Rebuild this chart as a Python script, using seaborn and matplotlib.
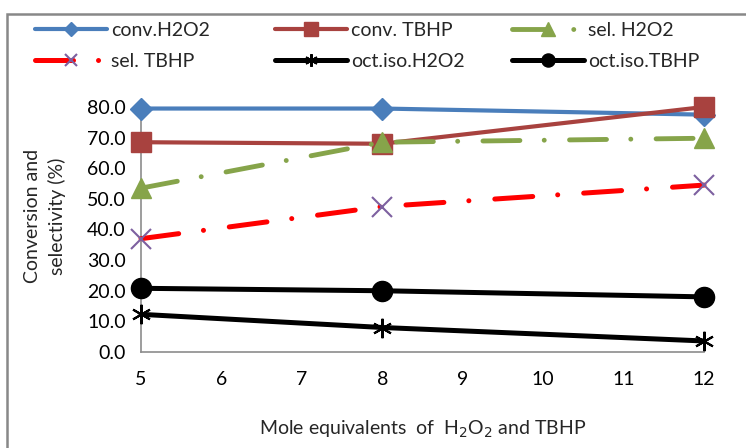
import matplotlib
matplotlib.use("Agg")
import matplotlib.pyplot as plt
from matplotlib.patches import Rectangle
from matplotlib.lines import Line2D
import seaborn as sns
import pandas as pd

# Oxidant loading (mole equivalents)
equivalents = [5, 8, 12]

# Conversion, selectivity and octane/iso ratio (%)
conv_h2o2 = [79.5, 79.5, 77.5]
conv_tbhp = [68.5, 68.0, 80.0]
sel_h2o2 = [53.5, 68.5, 69.8]
sel_tbhp = [37.0, 47.5, 54.5]
oct_iso_h2o2 = [12.3, 8.0, 3.6]
oct_iso_tbhp = [20.8, 20.0, 18.0]

series_names = ["conv.H2O2", "conv. TBHP", "sel. H2O2",
                "sel. TBHP", "oct.iso.H2O2", "oct.iso.TBHP"]
series_values = [conv_h2o2, conv_tbhp, sel_h2o2, sel_tbhp,
                 oct_iso_h2o2, oct_iso_tbhp]

x_ticks = [5, 6, 7, 8, 9, 10, 11, 12]
y_ticks = [0, 10, 20, 30, 40, 50, 60, 70, 80]

sns.set_theme(style="white")
plt.rcParams["font.family"] = ["Lato", "DejaVu Sans"]

dashdot = (0, (7.6, 5.0, 0.01, 5.2))
styles = {
    "conv.H2O2": dict(color="#4A7EBB", lw=3.0, ls="-", marker="D", ms=11,
                      mfc="#4A7EBB", mec="#4A7EBB", mew=1),
    "conv. TBHP": dict(color="#A8423F", lw=3.0, ls="-", marker="s", ms=14.5,
                       mfc="#A8423F", mec="#A8423F", mew=1),
    "sel. H2O2": dict(color="#86A44A", lw=3.5, ls=dashdot, marker="^", ms=14.5,
                      mfc="#86A44A", mec="#86A44A", mew=1),
    "sel. TBHP": dict(color="#FF0000", lw=3.6, ls=dashdot, marker="x", ms=14,
                      mfc="#7D60A0", mec="#7D60A0", mew=1.5),
    "oct.iso.H2O2": dict(color="#000000", lw=3.6, ls="-", marker=(6, 2, 0), ms=14,
                         mfc="#000000", mec="#000000", mew=1.5),
    "oct.iso.TBHP": dict(color="#000000", lw=3.6, ls="-", marker="o", ms=14.5,
                         mfc="#000000", mec="#000000", mew=1),
}

df = pd.DataFrame({"x": equivalents * len(series_names),
                   "y": sum(series_values, []),
                   "series": [n for n in series_names for _ in equivalents]})

fig = plt.figure(figsize=(7.46, 4.48), dpi=100)
ax = fig.add_axes([141 / 746, 1 - 352 / 448, (704 - 141) / 746, (352 - 107) / 448])

handles = {}
for name in series_names:
    st = styles[name]
    sub = df[df["series"] == name]
    sns.lineplot(data=sub, x="x", y="y", ax=ax, color=st["color"], lw=st["lw"],
                 linestyle=st["ls"], marker=st["marker"], markersize=st["ms"],
                 markerfacecolor=st["mfc"], markeredgecolor=st["mec"],
                 markeredgewidth=st["mew"], dash_capstyle="round",
                 clip_on=False, zorder=3, legend=False)
    handles[name] = Line2D([], [], color=st["color"], lw=st["lw"], linestyle=st["ls"],
                           marker=st["marker"], markersize=st["ms"] * 0.65,
                           markerfacecolor=st["mfc"], markeredgecolor=st["mec"],
                           markeredgewidth=st["mew"], dash_capstyle="round")

ax.set_xlim(5, 12)
ax.set_ylim(0, 80)
ax.set_xticks(x_ticks)
ax.set_xticklabels([str(v) for v in x_ticks])
ax.set_yticks(y_ticks)
ax.set_yticklabels([f"{v:.1f}" for v in y_ticks])

axis_gray = "#8C8C8C"
for side in ["top", "right"]:
    ax.spines[side].set_visible(False)
for side in ["left", "bottom"]:
    ax.spines[side].set_color(axis_gray)
    ax.spines[side].set_linewidth(1.2)
ax.tick_params(axis="both", direction="out", length=5, width=1.2, color=axis_gray,
               labelsize=14, labelcolor="#000000", pad=6)
ax.tick_params(axis="x", pad=9)
ax.grid(False)
ax.set_facecolor("white")

ax.set_xlabel("Mole equivalents  of  H$_2$O$_2$ and TBHP", fontsize=14, labelpad=22)
ax.set_ylabel("Conversion and\nselectivity (%)", fontsize=14, linespacing=1.4)
ax.yaxis.label.set_va("center")
ax.yaxis.set_label_coords((45 - 141) / 563, (352 - 216) / 245)

# legend laid out as three fixed columns of two entries each
legend_columns = [["conv.H2O2", "sel. TBHP"],
                  ["conv. TBHP", "oct.iso.H2O2"],
                  ["sel. H2O2", "oct.iso.TBHP"]]
column_x = [35, 275, 512]
for names, x0 in zip(legend_columns, column_x):
    leg = fig.legend([handles[n] for n in names], names, loc="upper left",
                     bbox_to_anchor=(x0 / 746, 1 - 22 / 448),
                     ncol=1, frameon=False, fontsize=14, handlelength=3.7,
                     handletextpad=0.2, labelspacing=0.7, borderaxespad=0,
                     borderpad=0)

# outer chart border
fig.patches.append(Rectangle((7 / 746, -0.2), 1.2, 0.2 + (1 - 14 / 448),
                             transform=fig.transFigure, fill=False,
                             edgecolor="#888888", lw=1.8))

fig.savefig("out.png", dpi=100, facecolor="white")
